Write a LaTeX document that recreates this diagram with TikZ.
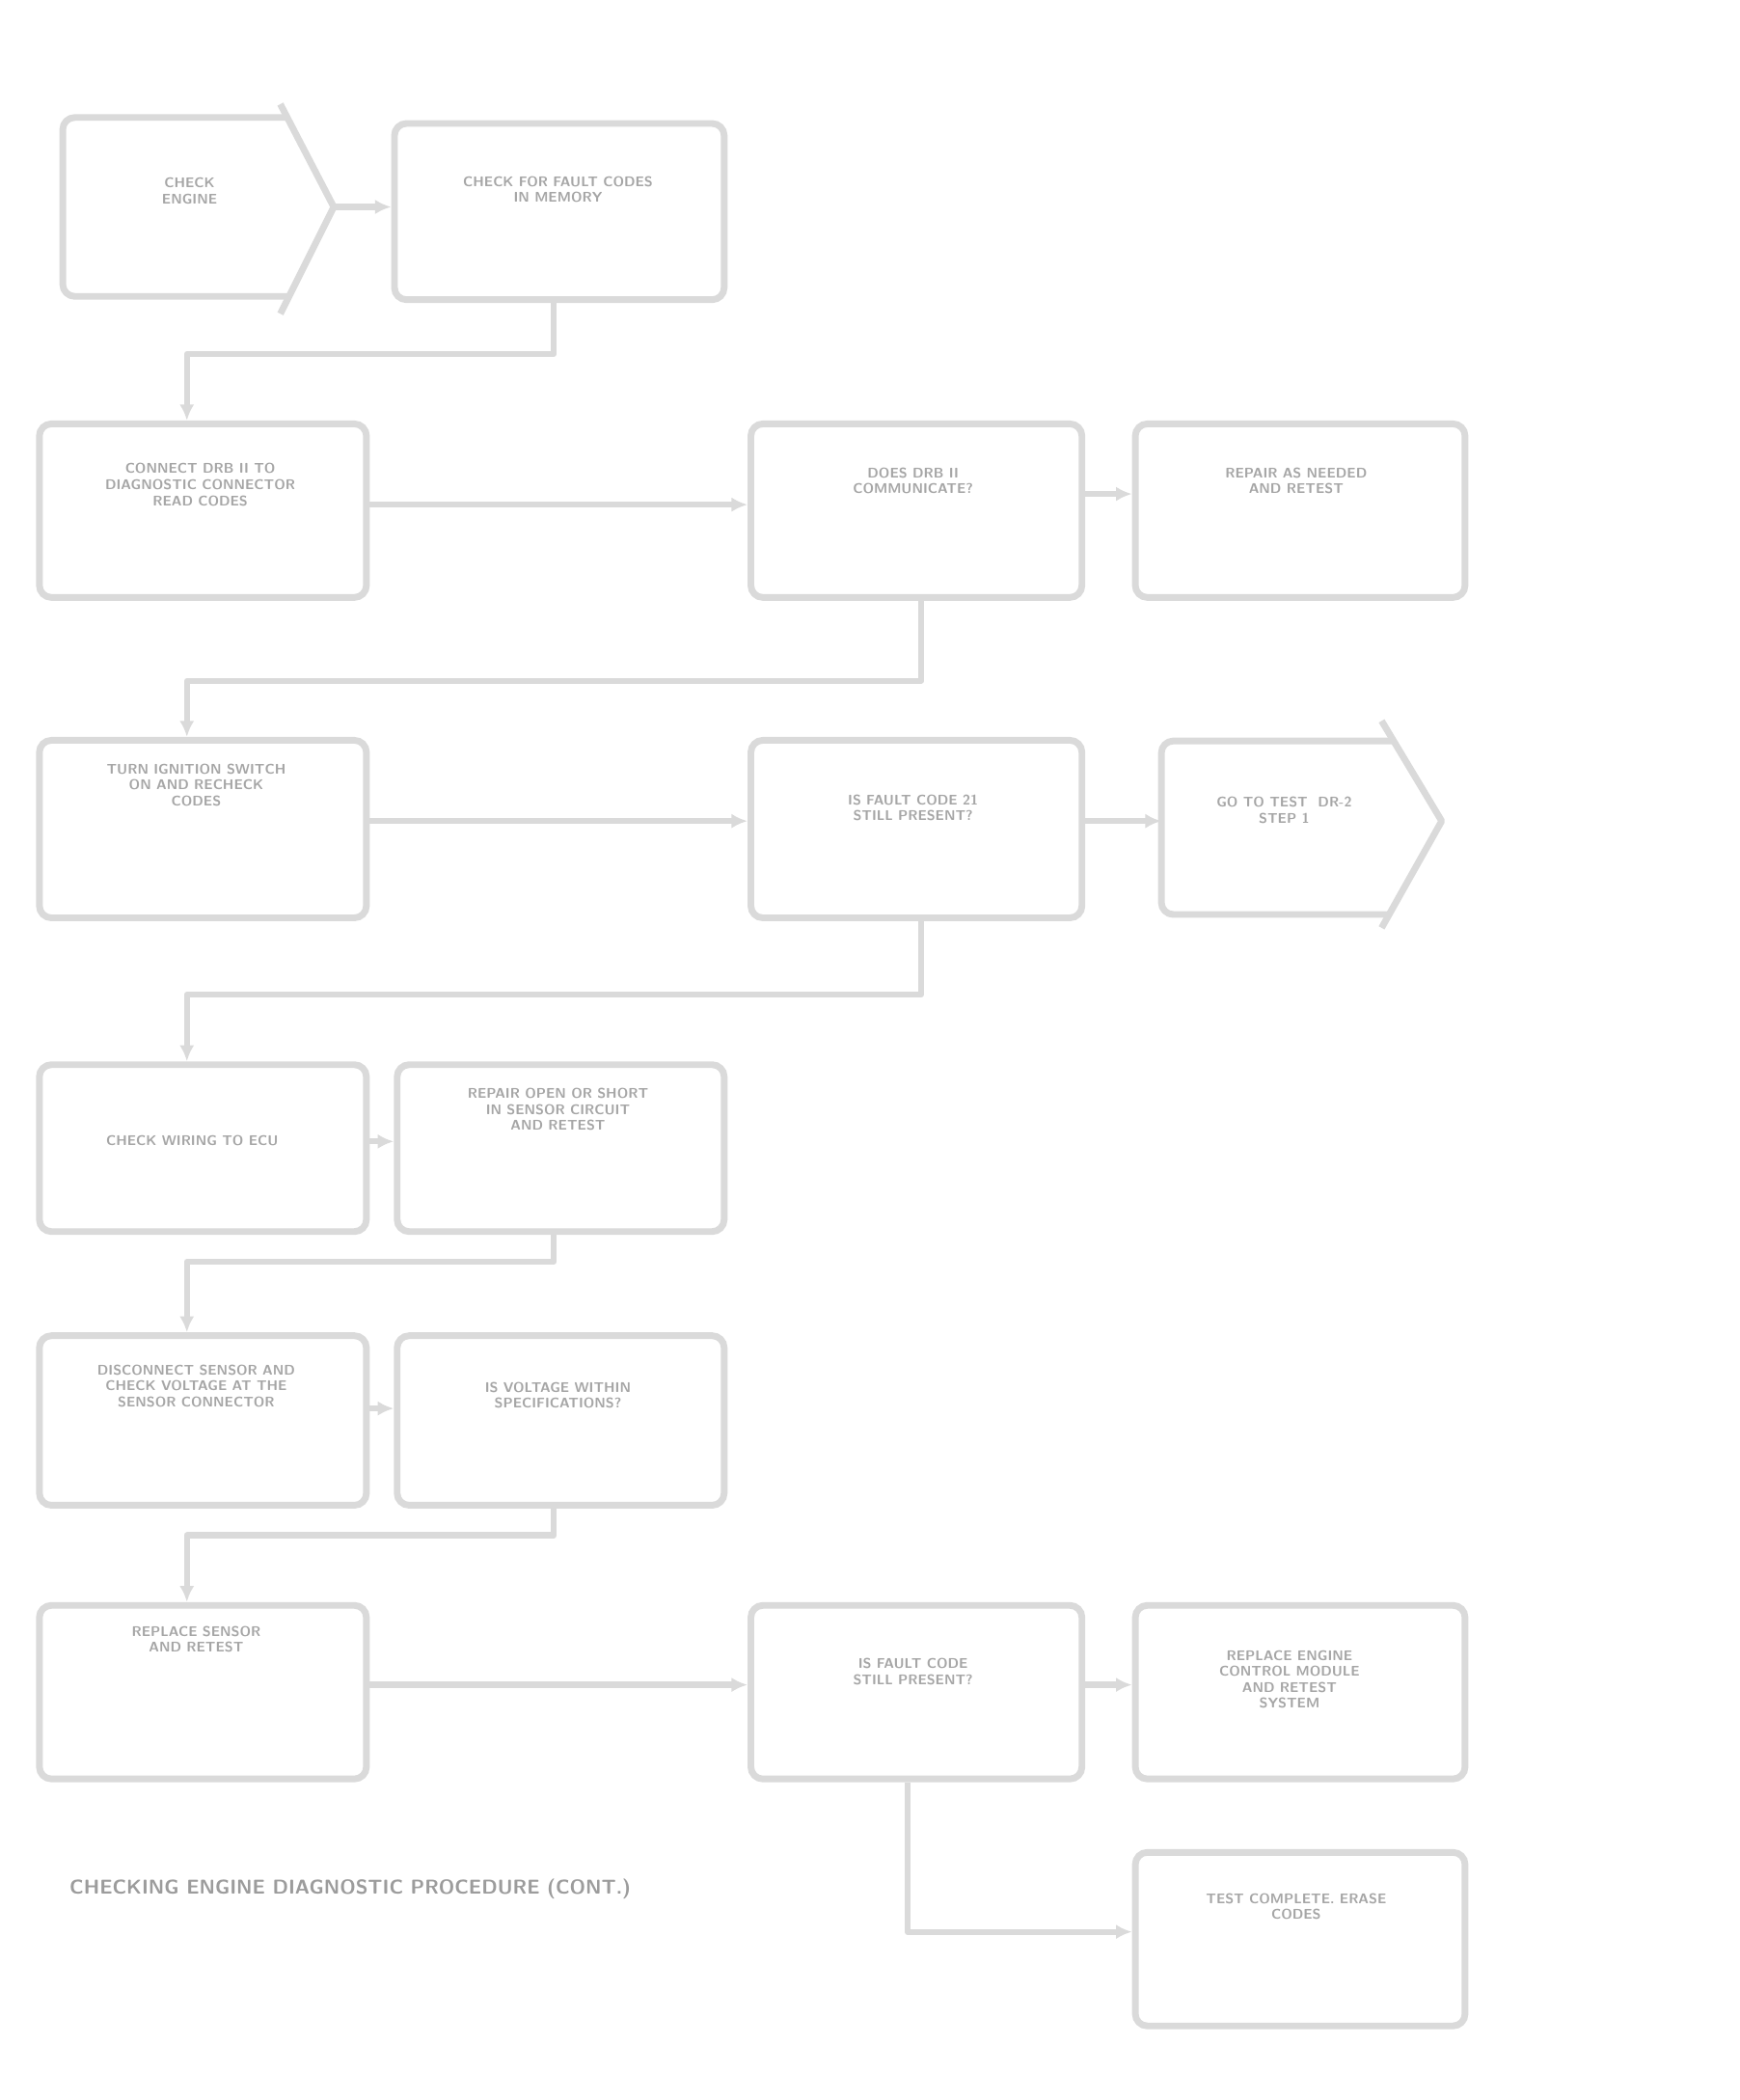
\documentclass[tikz,border=0pt]{standalone}
\usetikzlibrary{arrows.meta}
\definecolor{boxgray}{HTML}{DADADA}
\definecolor{txtgray}{HTML}{A6A6A6}
\definecolor{capgray}{HTML}{9C9C9C}
\tikzset{
  box/.style={draw=boxgray, line width=5pt, rounded corners=9pt, fill=white, inner sep=0pt},
  boxline/.style={draw=boxgray, line width=5pt, line join=round},
  conn/.style={draw=boxgray, line width=4.5pt, line join=round, -{Latex[length=12pt,width=11pt]}},
  btext/.style={text=txtgray, font=\fontsize{10.5}{12}\selectfont\sffamily\bfseries, align=center, anchor=north, inner sep=0pt},
}
\begin{document}
\begin{tikzpicture}[x=1pt,y=-1pt]
\useasboundingbox (0,0) rectangle (1303,1573);
% ---------- row 1
\draw[boxline, rounded corners=9pt] (215,88) -- (47,88) -- (47,222) -- (216,222);
\draw[boxline] (210,78) -- (250,155) -- (210,235);
\coordinate (B1e) at (250,155);
\node[btext] (T1) at (142,133) {CHECK\\ENGINE};
\node[box, minimum width=247, minimum height=132, anchor=north west] (B2) at (293,90) {};
\node[btext] (T2) at (418,132) {CHECK FOR FAULT CODES\\IN MEMORY};
% ---------- row 2
\node[box, minimum width=245, minimum height=130, anchor=north west] (B3) at (27,315) {};
\node[btext] (T3) at (150,347) {CONNECT DRB II TO\\DIAGNOSTIC CONNECTOR\\READ CODES};
\node[box, minimum width=248, minimum height=130, anchor=north west] (B4) at (560,315) {};
\node[btext] (T4) at (684,350) {DOES DRB II\\COMMUNICATE?};
\node[box, minimum width=247, minimum height=130, anchor=north west] (B5) at (848,315) {};
\node[btext] (T5) at (971,350) {REPAIR AS NEEDED\\AND RETEST};
% ---------- row 3
\node[box, minimum width=245, minimum height=133, anchor=north west] (B6) at (27,552) {};
\node[btext] (T6) at (147,572) {TURN IGNITION SWITCH\\ON AND RECHECK\\CODES};
\node[box, minimum width=248, minimum height=133, anchor=north west] (B7) at (560,552) {};
\node[btext] (T7) at (684,595) {IS FAULT CODE 21\\STILL PRESENT?};
\draw[boxline, rounded corners=9pt] (1044,555) -- (870,555) -- (870,685) -- (1041,685);
\draw[boxline] (1035,540) -- (1080,615) -- (1035,695);
\coordinate (B8w) at (870,615);
\node[btext] (T8) at (962,597) {GO TO TEST\ \ DR-2\\STEP 1};
% ---------- row 4
\node[box, minimum width=245, minimum height=125, anchor=north west] (B9) at (27,795) {};
\node[btext] (T9) at (144,850) {CHECK WIRING TO ECU};
\node[box, minimum width=245, minimum height=125, anchor=north west] (B10) at (295,795) {};
\node[btext] (T10) at (418,815) {REPAIR OPEN OR SHORT\\IN SENSOR CIRCUIT\\AND RETEST};
% ---------- row 5
\node[box, minimum width=245, minimum height=127, anchor=north west] (B11) at (27,998) {};
\node[btext] (T11) at (147,1022) {DISCONNECT SENSOR AND\\CHECK VOLTAGE AT THE\\SENSOR CONNECTOR};
\node[box, minimum width=245, minimum height=127, anchor=north west] (B12) at (295,998) {};
\node[btext] (T12) at (418,1035) {IS VOLTAGE WITHIN\\SPECIFICATIONS?};
% ---------- row 6
\node[box, minimum width=245, minimum height=130, anchor=north west] (B13) at (27,1200) {};
\node[btext] (T13) at (147,1218) {REPLACE SENSOR\\AND RETEST};
\node[box, minimum width=248, minimum height=130, anchor=north west] (B14) at (560,1200) {};
\node[btext] (T14) at (684,1242) {IS FAULT CODE\\STILL PRESENT?};
\node[box, minimum width=247, minimum height=130, anchor=north west] (B15) at (848,1200) {};
\node[btext] (T15) at (966,1236) {REPLACE ENGINE\\CONTROL MODULE\\AND RETEST\\SYSTEM};
\node[box, minimum width=247, minimum height=130, anchor=north west] (B16) at (848,1385) {};
\node[btext] (T16) at (971,1418) {TEST COMPLETE. ERASE\\CODES};
% ---------- caption
\node[text=capgray, font=\fontsize{15}{17}\selectfont\sffamily\bfseries, anchor=west, inner sep=0pt] (CAP) at (52,1415) {CHECKING ENGINE DIAGNOSTIC PROCEDURE (CONT.)};
% ---------- connectors
\draw[conn] (B1e) -- (B2.west |- B1e);
\draw[conn] (B2.south -| 415,0) -- (415,265) -- (140,265) -- (B3.north -| 140,0);
\draw[conn] (B3.east |- 0,378) -- (B4.west |- 0,378);
\draw[conn] (B4.east |- 0,370) -- (B5.west |- 0,370);
\draw[conn] (B4.south -| 690,0) -- (690,510) -- (140,510) -- (B6.north -| 140,0);
\draw[conn] (B6.east |- 0,615) -- (B7.west |- 0,615);
\draw[conn] (B7.east |- B8w) -- (B8w);
\draw[conn] (B7.south -| 690,0) -- (690,745) -- (140,745) -- (B9.north -| 140,0);
\draw[conn] (B9.east |- 0,855) -- (B10.west |- 0,855);
\draw[conn] (B10.south -| 415,0) -- (415,945) -- (140,945) -- (B11.north -| 140,0);
\draw[conn] (B11.east |- 0,1055) -- (B12.west |- 0,1055);
\draw[conn] (B12.south -| 415,0) -- (415,1150) -- (140,1150) -- (B13.north -| 140,0);
\draw[conn] (B13.east |- 0,1262) -- (B14.west |- 0,1262);
\draw[conn] (B14.east |- 0,1262) -- (B15.west |- 0,1262);
\draw[conn] (B14.south -| 680,0) -- (680,1447) -- (B16.west |- 0,1447);
\end{tikzpicture}
\end{document}
